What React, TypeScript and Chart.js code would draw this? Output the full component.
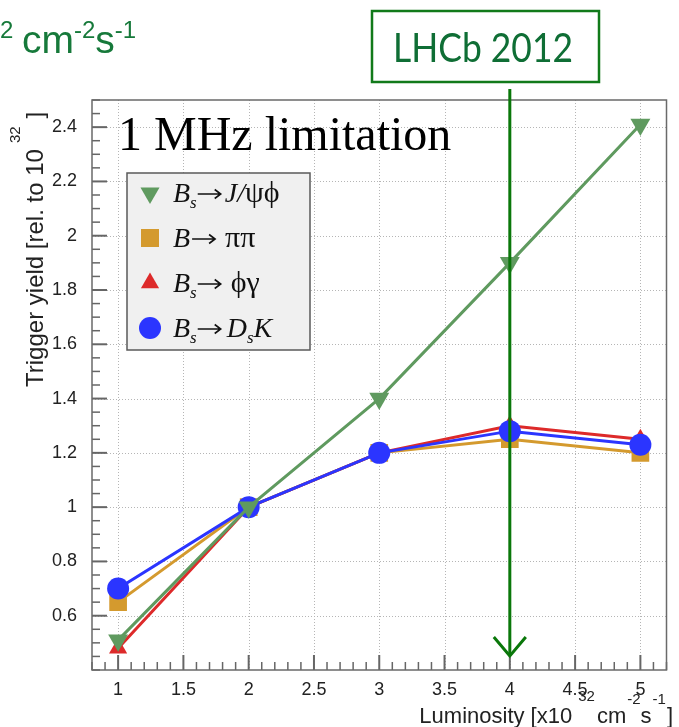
import React, { useEffect, useRef } from "react";
import { Chart, registerables } from "chart.js";

Chart.register(...registerables);

// ---- data ----
const luminosity = [1, 2, 3, 4, 5];
const yieldJpsiPhi = [0.51, 1.0, 1.4, 1.9, 2.41];
const yieldPiPi = [0.65, 1.0, 1.2, 1.25, 1.2];
const yieldPhiGamma = [0.48, 1.0, 1.2, 1.3, 1.25];
const yieldDsK = [0.7, 1.0, 1.2, 1.28, 1.23];

const xTickValues = [1, 1.5, 2, 2.5, 3, 3.5, 4, 4.5, 5];
const yTickValues = [0.6, 0.8, 1, 1.2, 1.4, 1.6, 1.8, 2, 2.2, 2.4];
const lhcb2012Luminosity = 4;

const COL_GREEN = "#5f9a5f";
const COL_ORANGE = "#d49a2e";
const COL_RED = "#dd2a2a";
const COL_BLUE = "#2b35ff";
const ANNOT_GREEN = "#117a1a";
const TEXT_GREEN = "#16793a";

const SANS = '"Liberation Sans", Arial, sans-serif';
const SERIF = '"Liberation Serif", "Times New Roman", serif';

type Part = { t?: string; font?: string; dy?: number; gap?: number; arrow?: number };

function drawRich(ctx: CanvasRenderingContext2D, x: number, y: number, parts: Part[]) {
  let cx = x;
  for (const p of parts) {
    if (p.gap) {
      cx += p.gap;
      continue;
    }
    if (p.arrow) {
      const w = p.arrow;
      const ay = y - 8;
      ctx.save();
      ctx.strokeStyle = ctx.fillStyle as string;
      ctx.lineWidth = 1.6;
      ctx.beginPath();
      ctx.moveTo(cx + 1, ay);
      ctx.lineTo(cx + w - 1, ay);
      ctx.moveTo(cx + w - 7, ay - 4.5);
      ctx.lineTo(cx + w - 1, ay);
      ctx.lineTo(cx + w - 7, ay + 4.5);
      ctx.stroke();
      ctx.restore();
      cx += w;
      continue;
    }
    ctx.font = p.font as string;
    ctx.fillText(p.t as string, cx, y + (p.dy || 0));
    cx += ctx.measureText(p.t as string).width;
  }
  return cx;
}
function richWidth(ctx: CanvasRenderingContext2D, parts: Part[]) {
  let w = 0;
  for (const p of parts) {
    if (p.gap) {
      w += p.gap;
      continue;
    }
    if (p.arrow) {
      w += p.arrow;
      continue;
    }
    ctx.font = p.font as string;
    w += ctx.measureText(p.t as string).width;
  }
  return w;
}

function marker(ctx: CanvasRenderingContext2D, kind: string, x: number, y: number, color: string) {
  ctx.save();
  ctx.fillStyle = color;
  ctx.beginPath();
  if (kind === "tdown") {
    const r = 11;
    ctx.moveTo(x - r * 0.866, y - r * 0.5);
    ctx.lineTo(x + r * 0.866, y - r * 0.5);
    ctx.lineTo(x, y + r);
    ctx.closePath();
  } else if (kind === "tup") {
    const r = 10.5;
    ctx.moveTo(x - r * 0.866, y + r * 0.5);
    ctx.lineTo(x + r * 0.866, y + r * 0.5);
    ctx.lineTo(x, y - r);
    ctx.closePath();
  } else if (kind === "rect") {
    ctx.rect(x - 9, y - 9, 18, 18);
  } else {
    ctx.arc(x, y, 11, 0, Math.PI * 2);
  }
  ctx.fill();
  ctx.restore();
}

const fmt = (v: number) => String(Math.round(v * 100) / 100);

const decorPlugin = {
  id: "decor",
  beforeDatasetsDraw(chart: any) {
    const { ctx, chartArea: a, scales } = chart;
    const xs = scales.x;
    const ys = scales.y;
    ctx.save();
    ctx.fillStyle = "#ffffff";
    ctx.fillRect(a.left, a.top, a.right - a.left, a.bottom - a.top);
    ctx.strokeStyle = "#b5b5b5";
    ctx.lineWidth = 1;
    ctx.setLineDash([1, 2]);
    for (const v of xTickValues) {
      const px = Math.round(xs.getPixelForValue(v)) + 0.5;
      ctx.beginPath();
      ctx.moveTo(px, a.top);
      ctx.lineTo(px, a.bottom);
      ctx.stroke();
    }
    for (const v of yTickValues) {
      const py = Math.round(ys.getPixelForValue(v)) + 0.5;
      ctx.beginPath();
      ctx.moveTo(a.left, py);
      ctx.lineTo(a.right, py);
      ctx.stroke();
    }
    ctx.restore();
  },
  afterDatasetsDraw(chart: any) {
    const { ctx, chartArea: a, scales } = chart;
    const xs = scales.x;
    const ys = scales.y;
    ctx.save();

    // inside tick marks
    ctx.strokeStyle = "#666";
    ctx.setLineDash([]);
    for (let i = 0; i <= 42; i++) {
      const v = 0.4 + i * 0.05;
      const major = yTickValues.some((t) => Math.abs(t - v) < 1e-6);
      const py = ys.getPixelForValue(v);
      if (py < a.top - 0.5 || py > a.bottom + 0.5) continue;
      ctx.lineWidth = major ? 2 : 1.5;
      ctx.beginPath();
      ctx.moveTo(a.left, py);
      ctx.lineTo(a.left + (major ? 15 : 8), py);
      ctx.stroke();
    }
    for (let i = 0; i <= 44; i++) {
      const v = 0.8 + i * 0.1;
      const major = xTickValues.some((t) => Math.abs(t - v) < 1e-6);
      const px = xs.getPixelForValue(v);
      if (px < a.left - 0.5 || px > a.right + 0.5) continue;
      ctx.lineWidth = major ? 2 : 1.5;
      ctx.beginPath();
      ctx.moveTo(px, a.bottom);
      ctx.lineTo(px, a.bottom - (major ? 15 : 8));
      ctx.stroke();
    }

    // frame
    ctx.strokeStyle = "#6a6a6a";
    ctx.lineWidth = 1.5;
    ctx.strokeRect(a.left, a.top, a.right - a.left, a.bottom - a.top);

    // legend box
    ctx.fillStyle = "#f0f0f0";
    ctx.fillRect(127, 173, 183, 177);
    ctx.strokeStyle = "#5a5a5a";
    ctx.lineWidth = 1.5;
    ctx.strokeRect(127, 173, 183, 177);
    const I = "italic 28px " + SERIF;
    const N = "30px " + SERIF;
    const S = "italic 17px " + SERIF;
    const rows: { kind: string; color: string; parts: Part[] }[] = [
      {
        kind: "tdown",
        color: COL_GREEN,
        parts: [{ t: "B", font: I }, { t: "s", font: S, dy: 6 }, { arrow: 25 }, { gap: 3 }, { t: "J/", font: I }, { t: "\u03c8\u03d5", font: N }],
      },
      {
        kind: "rect",
        color: COL_ORANGE,
        parts: [{ t: "B", font: I }, { gap: 1 }, { arrow: 25 }, { gap: 9 }, { t: "\u03c0\u03c0", font: N }],
      },
      {
        kind: "tup",
        color: COL_RED,
        parts: [{ t: "B", font: I }, { t: "s", font: S, dy: 6 }, { arrow: 25 }, { gap: 9 }, { t: "\u03d5\u03b3", font: N }],
      },
      {
        kind: "circle",
        color: COL_BLUE,
        parts: [
          { t: "B", font: I },
          { t: "s", font: S, dy: 6 },
          { arrow: 25 },
          { gap: 5 },
          { t: "D", font: I },
          { t: "s", font: S, dy: 6 },
          { t: "K", font: I },
        ],
      },
    ];
    ctx.textBaseline = "alphabetic";
    ctx.textAlign = "left";
    rows.forEach((r, i) => {
      const cy = 193 + i * 45;
      marker(ctx, r.kind, 150, cy, r.color);
      ctx.fillStyle = "#111";
      drawRich(ctx, 173, cy + 9, r.parts);
    });

    // "1 MHz limitation"
    ctx.fillStyle = "#000";
    ctx.font = "48px " + SERIF;
    ctx.fillText("1 MHz limitation", 118, 150);

    // axis titles
    ctx.fillStyle = "#222";
    const xt: Part[] = [
      { t: "Luminosity [x10", font: "22px " + SANS },
      { gap: 6 },
      { t: "32", font: "15px " + SANS, dy: -22 },
      { gap: 2 },
      { t: "cm", font: "22px " + SANS },
      { gap: 1 },
      { t: "-2", font: "15px " + SANS, dy: -19 },
      { t: "s", font: "22px " + SANS },
      { gap: 1 },
      { t: "-1", font: "15px " + SANS, dy: -19 },
      { gap: 1 },
      { t: "]", font: "22px " + SANS },
    ];
    const xw = richWidth(ctx, xt);
    drawRich(ctx, 673 - xw, 723, xt);

    ctx.save();
    ctx.translate(43, 387);
    ctx.rotate(-Math.PI / 2);
    drawRich(ctx, 0, 0, [
      { t: "Trigger yield [rel. to 10", font: "24px " + SANS },
      { gap: 6 },
      { t: "32", font: "15px " + SANS, dy: -23 },
      { gap: 8 },
      { t: "]", font: "24px " + SANS },
    ]);
    ctx.restore();

    // top-left partial green text
    ctx.fillStyle = TEXT_GREEN;
    ctx.font = "24px " + SANS;
    ctx.fillText("2", 0, 38);
    drawRich(ctx, 22, 53, [
      { t: "cm", font: "39px " + SANS },
      { t: "-2", font: "24px " + SANS, dy: -15 },
      { t: "s", font: "39px " + SANS },
      { t: "-1", font: "24px " + SANS, dy: -15 },
    ]);

    // LHCb 2012 box
    ctx.strokeStyle = ANNOT_GREEN;
    ctx.lineWidth = 2.5;
    ctx.strokeRect(372, 11, 227, 71);
    ctx.fillStyle = "#0f6e35";
    ctx.font = '40px Lato, "Open Sans", sans-serif';
    const lw = ctx.measureText("LHCb 2012").width;
    const sx = 180 / lw;
    ctx.save();
    ctx.translate(393, 62);
    ctx.scale(sx, 1);
    ctx.fillText("LHCb 2012", 0, 0);
    ctx.restore();

    // arrow
    const ax = xs.getPixelForValue(lhcb2012Luminosity);
    ctx.strokeStyle = "#0a770a";
    ctx.lineWidth = 3;
    ctx.beginPath();
    ctx.moveTo(ax, 89);
    ctx.lineTo(ax, 655);
    ctx.stroke();
    ctx.beginPath();
    ctx.moveTo(ax - 16, 637);
    ctx.lineTo(ax, 656);
    ctx.lineTo(ax + 16, 637);
    ctx.stroke();

    ctx.restore();
  },
};

export default function App() {
  const ref = useRef<HTMLCanvasElement | null>(null);
  useEffect(() => {
    if (!ref.current) return;
    const pts = (ys: number[]) => luminosity.map((x, i) => ({ x, y: ys[i] }));
    const chart = new Chart(ref.current, {
      type: "line",
      data: {
        datasets: [
          {
            label: "Bs->J/psi phi",
            data: pts(yieldJpsiPhi),
            borderColor: COL_GREEN,
            backgroundColor: COL_GREEN,
            borderWidth: 3,
            pointStyle: "triangle",
            rotation: 180,
            pointRadius: 11.5,
            pointBorderWidth: 0,
            order: 0,
          },
          {
            label: "B->pi pi",
            data: pts(yieldPiPi),
            borderColor: COL_ORANGE,
            backgroundColor: COL_ORANGE,
            borderWidth: 3,
            pointStyle: "rect",
            pointRadius: 12.5,
            pointBorderWidth: 0,
            order: 3,
          },
          {
            label: "Bs->phi gamma",
            data: pts(yieldPhiGamma),
            borderColor: COL_RED,
            backgroundColor: COL_RED,
            borderWidth: 3,
            pointStyle: "triangle",
            pointRadius: 10.5,
            pointBorderWidth: 0,
            order: 2,
          },
          {
            label: "Bs->DsK",
            data: pts(yieldDsK),
            borderColor: COL_BLUE,
            backgroundColor: COL_BLUE,
            borderWidth: 3,
            pointStyle: "circle",
            pointRadius: 11,
            pointBorderWidth: 0,
            order: 1,
          },
        ],
      } as any,
      options: {
        responsive: false,
        animation: false,
        devicePixelRatio: 1,
        layout: { padding: { top: 100, right: 5, left: 0, bottom: 0 } },
        plugins: { legend: { display: false }, tooltip: { enabled: false } },
        scales: {
          x: {
            type: "linear",
            min: 0.8,
            max: 5.2,
            afterBuildTicks: (s: any) => {
              s.ticks = xTickValues.map((v) => ({ value: v }));
            },
            afterFit: (s: any) => {
              s.height = 57;
            },
            grid: { display: false, drawTicks: false },
            border: { display: false },
            ticks: {
              font: { family: SANS, size: 18 },
              color: "#222",
              padding: 9,
              autoSkip: false,
              maxRotation: 0,
              callback: (v: any) => fmt(Number(v)),
            },
          },
          y: {
            type: "linear",
            min: 0.4,
            max: 2.5,
            afterBuildTicks: (s: any) => {
              s.ticks = yTickValues.map((v) => ({ value: v }));
            },
            afterFit: (s: any) => {
              s.width = 92;
            },
            grid: { display: false, drawTicks: false },
            border: { display: false },
            ticks: {
              font: { family: SANS, size: 18 },
              color: "#222",
              padding: 15,
              autoSkip: false,
              callback: (v: any) => fmt(Number(v)),
            },
          },
        },
      } as any,
      plugins: [decorPlugin],
    });
    return () => chart.destroy();
  }, []);
  return (
    <div style={{ position: "absolute", left: 0, top: 0, width: 679, height: 727, background: "#fff" }}>
      <canvas ref={ref} width={679} height={727} style={{ display: "block" }} />
    </div>
  );
}
